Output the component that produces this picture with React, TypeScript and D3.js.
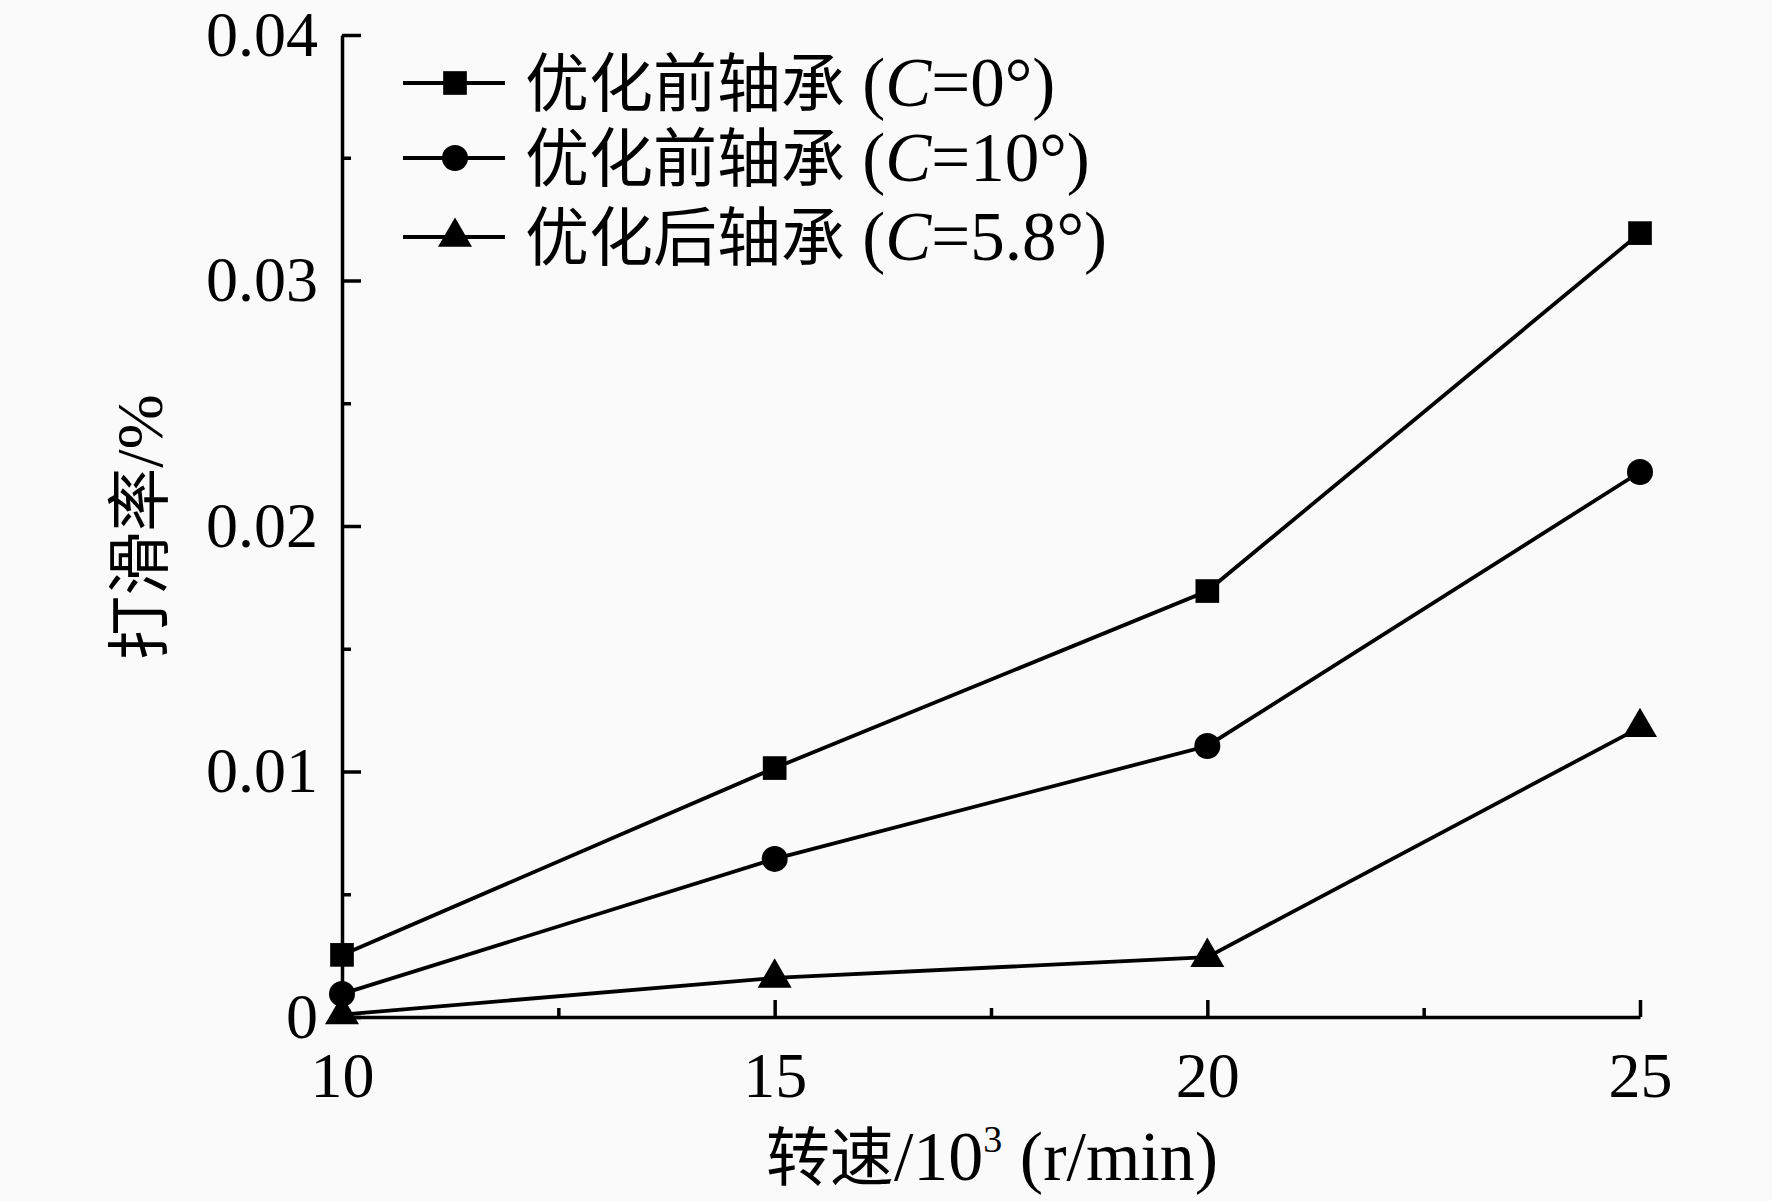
import React, { useEffect, useRef } from "react";
import * as d3 from "d3";

// speeds (10^3 r/min)
const speeds = [10, 15, 20, 25];
// slip rate (%) per bearing
const beforeC0 = [0.00253, 0.01014, 0.01735, 0.03193];
const beforeC10 = [0.00094, 0.00644, 0.01104, 0.0222];
const afterC58 = [0.0001, 0.00159, 0.00244, 0.0118];

const seriesNames = ["优化前轴承", "优化前轴承", "优化后轴承"];
const seriesAngles = ["0°", "10°", "5.8°"];

const xTicks = [10, 15, 20, 25];
const xMinorTicks = [12.5, 17.5, 22.5];
const yTicks = [0, 0.01, 0.02, 0.03, 0.04];
const yTickLabels = ["0", "0.01", "0.02", "0.03", "0.04"];
const yMinorTicks = [0.005, 0.015, 0.025, 0.035];

const W = 1772;
const H = 1201;
const LATIN = "'Liberation Serif', 'Times New Roman', serif";
const CJK = "'Noto Sans CJK SC', sans-serif";

export default function App() {
  const ref = useRef<SVGSVGElement>(null);

  useEffect(() => {
    const svg = d3.select(ref.current);
    svg.selectAll("*").remove();

    const x = d3.scaleLinear().domain([10, 25]).range([342, 1640]);
    const y = d3.scaleLinear().domain([0, 0.04]).range([1017, 35]);

    svg.append("rect").attr("width", W).attr("height", H).attr("fill", "#fafafa");

    // x axis
    const gx = svg.append("g").attr("transform", `translate(0,${y(0)})`);
    gx.call(
      d3.axisBottom(x).tickValues(xTicks).tickSizeInner(-17).tickSizeOuter(0).tickPadding(35).tickFormat(d3.format("d"))
    );
    gx.append("g").call(
      d3.axisBottom(x).tickValues(xMinorTicks).tickSizeInner(-9).tickSizeOuter(0).tickFormat(() => "")
    ).call((g) => g.select(".domain").remove());

    // y axis
    const gy = svg.append("g").attr("transform", `translate(${x(10)},0)`);
    gy.call(
      d3.axisLeft(y).tickValues(yTicks).tickSizeInner(-19).tickSizeOuter(0).tickPadding(24)
        .tickFormat((d, i) => yTickLabels[i])
    );
    gy.append("g").call(
      d3.axisLeft(y).tickValues(yMinorTicks).tickSizeInner(-9).tickSizeOuter(0).tickFormat(() => "")
    ).call((g) => g.select(".domain").remove());

    svg.selectAll(".domain, .tick line").attr("stroke", "#000").attr("stroke-width", 3.5);
    svg.selectAll(".tick text")
      .attr("font-family", LATIN)
      .attr("font-size", 64)
      .attr("fill", "#000");

    // series
    const series = [beforeC0, beforeC10, afterC58];
    const symbols = [
      d3.symbol(d3.symbolSquare, 560),
      d3.symbol(d3.symbolCircle, 531),
      d3.symbol(d3.symbolTriangle, 500),
    ];
    const line = d3.line<number>().x((d, i) => x(speeds[i])).y((d) => y(d));

    series.forEach((vals, s) => {
      svg.append("path")
        .attr("d", line(vals))
        .attr("fill", "none")
        .attr("stroke", "#000")
        .attr("stroke-width", 3.8);
      svg.append("g")
        .selectAll("path")
        .data(vals)
        .join("path")
        .attr("transform", (d, i) => `translate(${x(speeds[i])},${y(d)})`)
        .attr("d", symbols[s]())
        .attr("fill", "#000");
    });

    // legend
    const rowsY = [83, 158, 237];
    const legend = svg.append("g");
    rowsY.forEach((ry, s) => {
      legend.append("line")
        .attr("x1", 403).attr("x2", 505)
        .attr("y1", ry).attr("y2", ry)
        .attr("stroke", "#000").attr("stroke-width", 3.8);
      legend.append("path")
        .attr("transform", `translate(455,${ry})`)
        .attr("d", symbols[s]())
        .attr("fill", "#000");
      const t = legend.append("text")
        .attr("x", 525).attr("y", ry + 23)
        .attr("font-size", 64)
        .attr("fill", "#000");
      t.append("tspan").attr("font-family", CJK).text(seriesNames[s]);
      const lat = t.append("tspan").attr("font-family", LATIN).attr("font-size", 69);
      lat.append("tspan").text(" (");
      lat.append("tspan").attr("font-style", "italic").text("C");
      lat.append("tspan").text("=" + seriesAngles[s] + ")");
    });

    // axis titles
    const xt = svg.append("text")
      .attr("x", 992).attr("y", 1180)
      .attr("text-anchor", "middle")
      .attr("font-size", 64)
      .attr("fill", "#000");
    xt.append("tspan").attr("font-family", CJK).text("转速");
    xt.append("tspan").attr("font-family", LATIN).attr("font-size", 70).text("/10");
    xt.append("tspan").attr("font-family", LATIN).attr("font-size", 38).attr("dy", -28).text("3");
    xt.append("tspan").attr("font-family", LATIN).attr("font-size", 70).attr("dy", 28).text(" (r/min)");

    const yt = svg.append("text")
      .attr("transform", "translate(162,527) rotate(-90)")
      .attr("text-anchor", "middle")
      .attr("font-size", 64)
      .attr("fill", "#000");
    yt.append("tspan").attr("font-family", CJK).text("打滑率");
    yt.append("tspan").attr("font-family", LATIN).attr("font-size", 66).text("/%");
  }, []);

  return (
    <svg
      ref={ref}
      width={W}
      height={H}
      style={{ position: "absolute", left: 0, top: 0, display: "block" }}
    />
  );
}
